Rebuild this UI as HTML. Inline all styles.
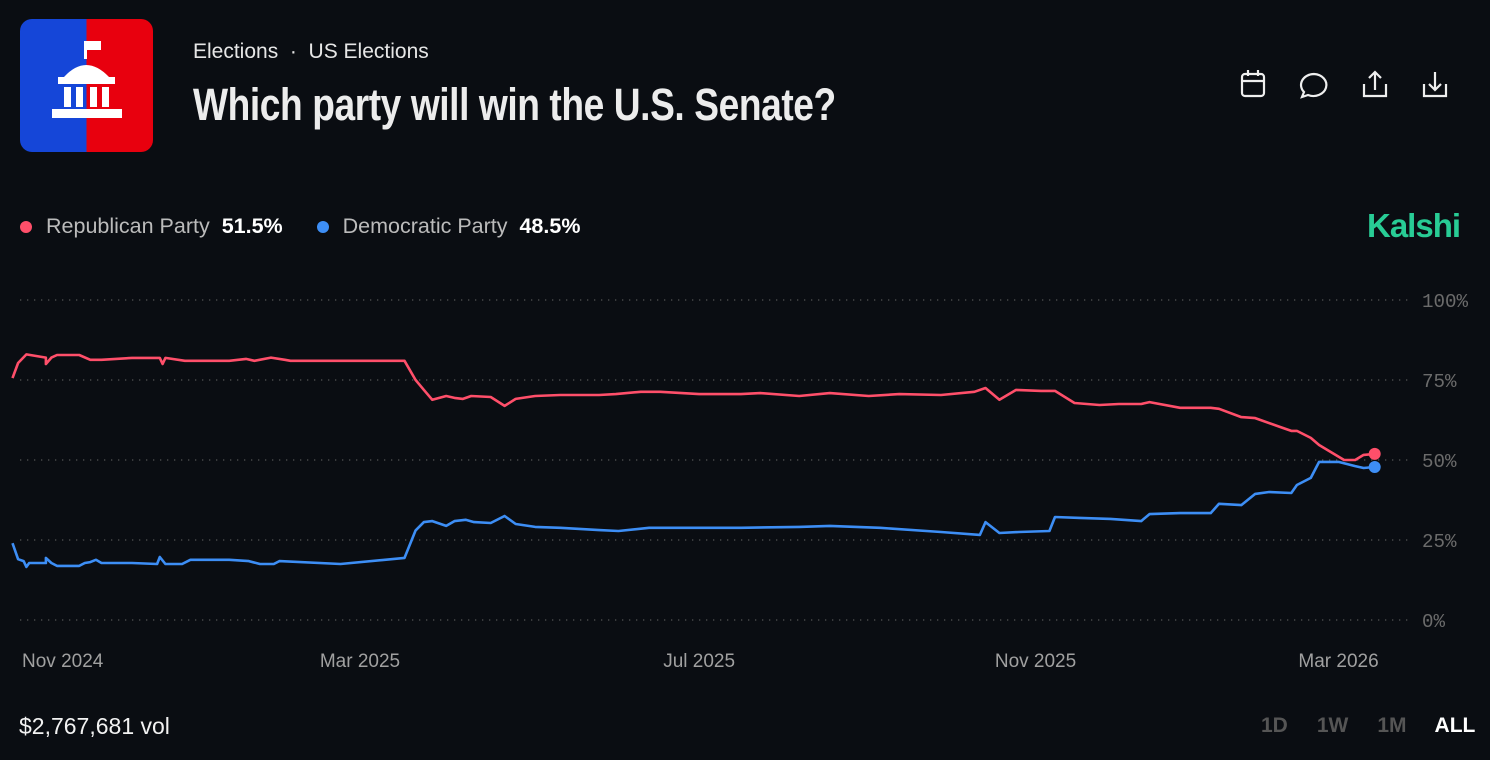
<!DOCTYPE html>
<html><head><meta charset="utf-8">
<style>
body{margin:0;width:1490px;height:760px;background:#0a0d12;font-family:"Liberation Sans",sans-serif;overflow:hidden;position:relative;color:#fff}
.abs{position:absolute}
</style></head><body>
<div class="abs" style="left:20px;top:19px;width:133px;height:133px;border-radius:12px;overflow:hidden;background:linear-gradient(90deg,#1546d8 50%,#e8000e 50%)">
<svg width="133" height="133" viewBox="0 0 133 133"><g fill="#fff">
<rect x="64" y="22" width="3" height="18"/><rect x="67" y="22" width="14" height="9"/>
<path d="M44 58 Q66 34 89 58 Z"/><rect x="38" y="58" width="57" height="7"/>
<rect x="44" y="68" width="7" height="20"/><rect x="56" y="68" width="7" height="20"/><rect x="70" y="68" width="7" height="20"/><rect x="82" y="68" width="7" height="20"/>
<rect x="32" y="90" width="70" height="9"/></g></svg></div>
<div class="abs" style="left:193px;top:40px;font-size:21px;color:#e6e6e6;white-space:nowrap">Elections &nbsp;·&nbsp; US Elections</div>
<div class="abs" style="left:193px;top:79px;font-size:45px;font-weight:bold;color:#ececec;letter-spacing:-0.5px;white-space:nowrap;transform:scaleX(0.825);transform-origin:0 0">Which party will win the U.S. Senate?</div>
<svg class="abs" style="left:1230px;top:66px" width="230" height="40" fill="none" stroke="#eee" stroke-width="2.2">
<g><rect x="12" y="8" width="22" height="22" rx="3"/><line x1="12" y1="15" x2="34" y2="15"/><line x1="18" y1="4" x2="18" y2="10"/><line x1="28" y1="4" x2="28" y2="10"/></g>
<g><path d="M84 8 a13 11 0 1 1 -6 21 l-6 2 2-5 a13 11 0 0 1 10-18z"/></g>
<g><path d="M134 18 v12 h22 v-12 M145 24 V6 M139 12 l6-6 6 6"/></g>
<g><path d="M194 18 v12 h22 v-12 M205 6 V24 M199 18 l6 6 6-6"/></g>
</svg>
<div class="abs" style="left:20px;top:214px;font-size:21.5px;color:#bbb;white-space:nowrap">
<span><span style="display:inline-block;width:12px;height:12px;border-radius:50%;background:#ff4f6a;margin-right:14px"></span>Republican Party&nbsp;&nbsp;<b style="color:#fff">51.5%</b></span>
<span style="margin-left:28px"><span style="display:inline-block;width:12px;height:12px;border-radius:50%;background:#3d8ef5;margin-right:14px"></span>Democratic Party&nbsp;&nbsp;<b style="color:#fff">48.5%</b></span></div>
<div class="abs" style="left:1367px;top:207px;font-size:33px;font-weight:bold;color:#28cc95;letter-spacing:-1px">Kalshi</div>
<svg id="chart" class="abs" style="left:0;top:0" width="1490" height="700"></svg>
<div class="abs" style="left:19px;top:713px;font-size:23px;color:#f2f2f2">$2,767,681 vol</div>
<div class="abs" style="left:1261px;top:714px;font-size:21px;font-weight:bold;color:#555;white-space:nowrap">
<span>1D</span><span style="margin-left:29px">1W</span><span style="margin-left:29px">1M</span><span style="margin-left:28px;color:#fff">ALL</span></div>
<script>
const yTicks=[0,25,50,75,100];
const xTickLabels=["Nov 2024","Mar 2025","Jul 2025","Nov 2025","Mar 2026"];
const xTickDays=[-106,0,122,243,352];
const repDays=[-125,-123,-120,-113,-113,-111,-109,-101,-97,-93,-82,-72,-71,-70,-63,-47,-41,-38,-32,-27,-25,16,20,23,26,31,34,37,40,47,52,56,63,72,86,92,101,108,122,137,144,158,169,183,194,209,221,225,230,236,245,250,257,266,273,281,284,295,306,309,317,322,331,335,337,342,345,354,358,361,365];
const repVals=[75.6,80.3,83,82,80,82,82.8,82.8,81.3,81.3,81.9,81.9,80,81.9,81,81,81.6,81,82,81.3,81,81,75,71.9,68.8,70,69.4,69.1,70,69.7,66.9,69.1,70,70.3,70.3,70.6,71.3,71.3,70.6,70.6,70.9,70,70.9,70,70.6,70.3,71.3,72.5,68.8,71.9,71.6,71.6,67.8,67.2,67.5,67.5,68.1,66.3,66.3,66,63.4,63.1,60.3,59.1,59.1,56.9,54.7,50,50,51.6,51.9,51.5];
const demDays=[-125,-123,-121,-120,-119,-113,-113,-111,-109,-101,-99,-97,-95,-93,-82,-73,-72,-70,-64,-61,-54,-47,-40,-36,-31,-29,-7,16,20,23,26,31,34,38,41,47,52,56,63,72,86,93,104,122,137,158,169,187,209,223,225,230,237,248,250,259,270,281,284,295,306,309,317,322,327,335,337,342,345,352,358,361,365];
const demVals=[24,19,18.4,16.6,17.8,17.8,19.4,17.8,16.9,16.9,17.8,18.1,18.8,17.8,17.8,17.5,19.7,17.5,17.5,18.8,18.8,18.8,18.4,17.5,17.5,18.4,17.5,19.4,28,30.6,30.9,29.4,30.9,31.3,30.6,30.3,32.5,30,29.1,28.8,28.1,27.8,28.8,28.8,28.8,29.1,29.4,28.8,27.5,26.6,30.6,27.2,27.5,27.8,32.2,31.9,31.6,30.9,33.1,33.4,33.4,36.3,35.9,39.4,40,39.7,42.2,44.4,49.4,49.4,48.1,47.5,47.8];
const svg=document.getElementById('chart'),NS='http://www.w3.org/2000/svg';
const X0=20,X1=1410;
const xs=d=>360+d*2.78, ys=v=>620-v*3.2;
function mk(t,a){const e=document.createElementNS(NS,t);for(const k in a)e.setAttribute(k,a[k]);svg.appendChild(e);return e;}
yTicks.forEach(v=>{
 const l=mk('line',{x1:X0,x2:X1,y1:ys(v),y2:ys(v),stroke:'#555','stroke-width':1.3,'stroke-dasharray':'1.3 5.7'});
 
 
 const t=mk('text',{x:1422,y:ys(v)+7,fill:'#6b6b6b','font-size':19,'font-family':'Liberation Mono, monospace',textLength:String(v+'%').length*11.5,lengthAdjust:'spacingAndGlyphs'});
 t.textContent=v+'%';
 
 
});
xTickLabels.forEach((s,i)=>{
 const t=mk('text',{x:i==0?22:xs(xTickDays[i]),y:667,fill:'#a0a0a0','font-size':19,'text-anchor':i==0?'start':'middle'});
 t.textContent=s;
 
 
});
function series(days,vals,col,name){
 const p=mk('path',{d:days.map((d,i)=>(i?'L':'M')+xs(d).toFixed(1)+' '+ys(vals[i]).toFixed(1)).join(''),fill:'none',stroke:col,'stroke-width':2.6,'stroke-linejoin':'round'});
 
 
 const n=days.length-1;
 const c=mk('circle',{cx:xs(days[n]),cy:ys(vals[n]),r:6,fill:col});
 
 
}
series(demDays,demVals,'#3d8ef5','democratic');
series(repDays,repVals,'#ff4f6a','republican');
</script>
</body></html>
